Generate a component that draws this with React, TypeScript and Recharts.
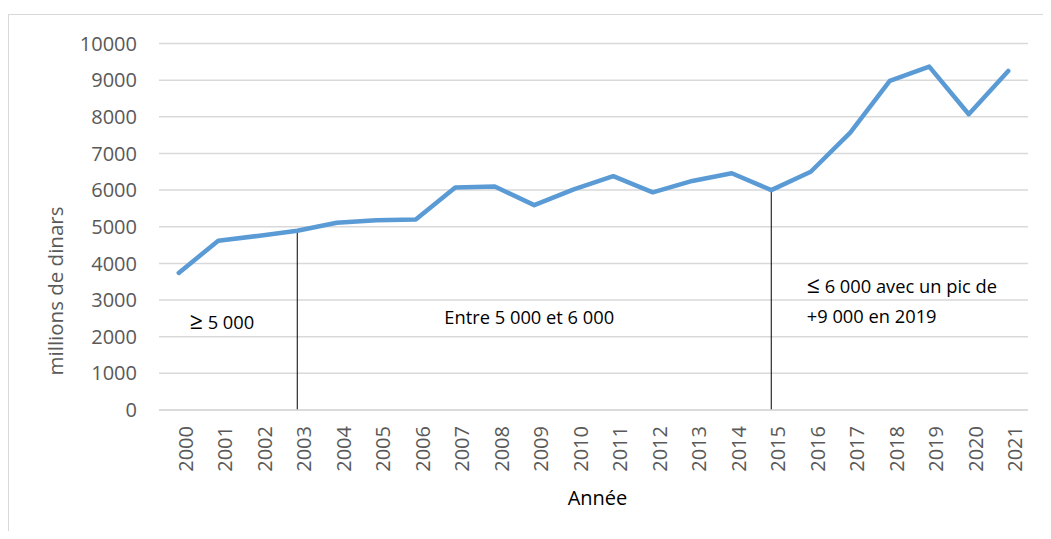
import React from 'react'
import { LineChart, Line, XAxis, YAxis, CartesianGrid, ReferenceLine, ReferenceDot } from 'recharts'

// années et montants (millions de dinars)
const years = [
  '2000', '2001', '2002', '2003', '2004', '2005', '2006', '2007', '2008', '2009', '2010',
  '2011', '2012', '2013', '2014', '2015', '2016', '2017', '2018', '2019', '2020', '2021',
]
const amounts = [
  3740, 4620, 4750, 4890, 5110, 5180, 5200, 6070, 6100, 5590, 6020,
  6380, 5940, 6250, 6460, 6000, 6500, 7570, 8980, 9370, 8070, 9250,
]
const yTicks = [0, 1000, 2000, 3000, 4000, 5000, 6000, 7000, 8000, 9000, 10000]

// ruptures marquées par un trait vertical
const breakYears = ['2003', '2015']

// commentaires posés sur le graphique
const notes = [
  { year: '2000', value: 2380, sign: '≥', text: ' 5 000', anchor: 'start', dx: 11 },
  { year: '2009', value: 2510, sign: '', text: 'Entre 5 000 et 6 000', anchor: 'middle', dx: -5 },
  { year: '2016', value: 3360, sign: '≤', text: ' 6 000 avec un pic de', anchor: 'start', dx: -4 },
  { year: '2016', value: 2540, sign: '', text: '+9 000 en 2019', anchor: 'start', dx: -4 },
]

const data = years.map((year, i) => ({ year, value: amounts[i] }))

const FONT = '"Open Sans", "Liberation Sans", sans-serif'
const GREY = '#595959'

const App = () => {
  return (
    <div style={{ position: 'relative', width: 1035, height: 523, overflow: 'hidden', fontFamily: FONT }}>
      <div
        style={{
          position: 'absolute',
          left: 0,
          top: 6,
          width: 1200,
          height: 700,
          borderTop: '1px solid #d9d9d9',
          borderLeft: '1px solid #d9d9d9',
        }}
      />
      <LineChart
        width={1035}
        height={523}
        data={data}
        margin={{ top: 35.5, right: 15, left: 0, bottom: 0 }}
        style={{ position: 'absolute', left: 0, top: 0 }}
      >
        <CartesianGrid vertical={false} stroke="#d9d9d9" strokeWidth={1.5} />
        <XAxis
          dataKey="year"
          height={121}
          interval={0}
          padding={{ left: 19.75, right: 19.75 }}
          axisLine={{ stroke: '#d9d9d9', strokeWidth: 1.5 }}
          tickLine={false}
          tickSize={0}
          tickMargin={16}
          angle={-90}
          textAnchor="end"
          tick={{ fill: GREY, fontSize: 20, fontFamily: FONT }}
          label={{
            value: 'Année',
            position: 'insideBottom',
            offset: 26,
            dx: 4,
            fill: '#000',
            fontSize: 20,
            fontFamily: FONT,
          }}
        />
        <YAxis
          width={151}
          domain={[0, 10000]}
          ticks={yTicks}
          axisLine={false}
          tickLine={false}
          tickSize={0}
          tickMargin={22}
          tick={{ fill: GREY, fontSize: 20, fontFamily: FONT }}
          label={{
            content: () => (
              <text
                x={55}
                y={283}
                transform="rotate(-90, 55, 283)"
                textAnchor="middle"
                fill={GREY}
                fontSize={20.5}
                fontFamily={FONT}
              >
                millions de dinars
              </text>
            ),
          }}
        />
        {breakYears.map((y) => (
          <ReferenceLine
            key={y}
            segment={[
              { x: y, y: 0 },
              { x: y, y: amounts[years.indexOf(y)] },
            ]}
            stroke="#000"
            strokeWidth={1}
          />
        ))}
        <Line
          type="linear"
          dataKey="value"
          stroke="#5b9bd5"
          strokeWidth={4.5}
          strokeLinecap="round"
          strokeLinejoin="round"
          dot={false}
          activeDot={false}
          isAnimationActive={false}
        />
        {notes.map((n, i) => (
          <ReferenceDot
            key={i}
            x={n.year}
            y={n.value}
            r={0}
            shape={(p: any) => (
              <text
                x={p.cx + n.dx}
                y={p.cy}
                dy="0.35em"
                textAnchor={n.anchor}
                fill="#000"
                fontSize={18.3}
                fontFamily={FONT}
              >
                {n.sign && <tspan fontSize={23}>{n.sign}</tspan>}
                {n.text}
              </text>
            )}
          />
        ))}
      </LineChart>
    </div>
  )
}

export default App
